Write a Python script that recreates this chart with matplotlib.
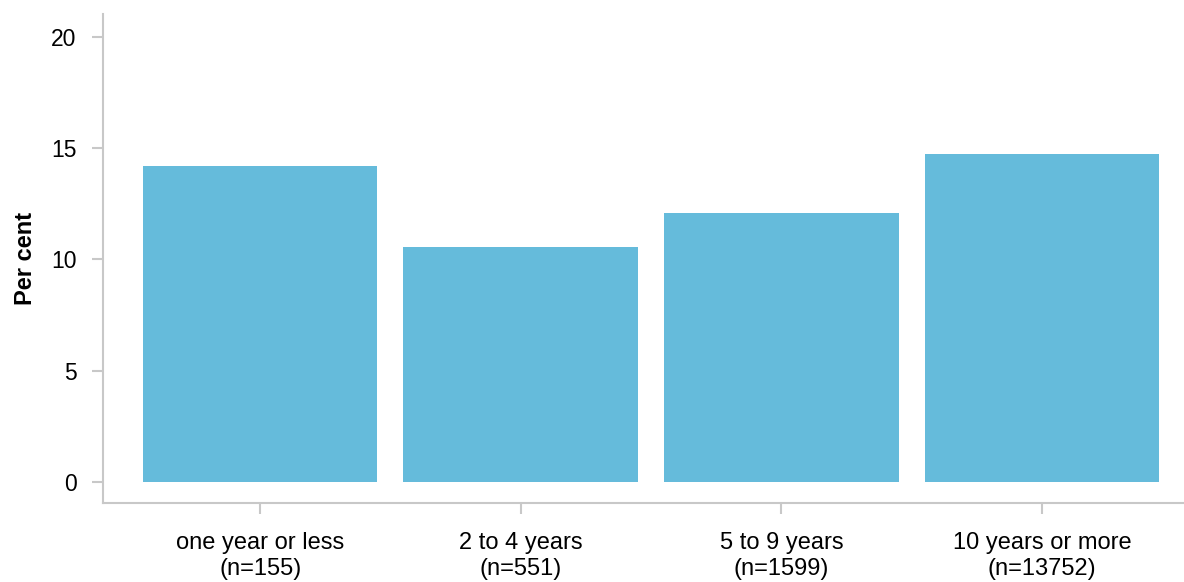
import matplotlib.pyplot as plt
import numpy as np

plt.rcParams['font.family'] = ['Liberation Sans', 'DejaVu Sans']

# data
categories = ['one year or less\n(n=155)', '2 to 4 years\n(n=551)',
              '5 to 9 years\n(n=1599)', '10 years or more\n(n=13752)']
values = [14.2, 10.55, 12.1, 14.75]
yticks = [0, 5, 10, 15, 20]

fig = plt.figure(figsize=(11.84, 5.82), dpi=100)
ax = fig.add_axes([0.087, 0.1357, 0.913, 0.8403])

x = np.arange(len(categories))
ax.bar(x, values, width=0.9, color='#65bbdb')

ax.set_xlim(-0.603, 3.545)
ax.set_ylim(-0.944, 21.03)
ax.set_yticks(yticks)
ax.set_xticks(x)
ax.set_xticklabels(categories, fontsize=17, linespacing=1.25)
ax.tick_params(axis='y', labelsize=16.5, length=8, width=1.5, color='#c8c8c8', pad=11)
ax.tick_params(axis='x', length=8, width=1.5, color='#c8c8c8', pad=13)

for s in ['top', 'right']:
    ax.spines[s].set_visible(False)
for s in ['left', 'bottom']:
    ax.spines[s].set_color('#c8c8c8')
    ax.spines[s].set_linewidth(1.5)

ax.set_ylabel('Per cent', fontsize=17, fontweight='bold', labelpad=10)

fig.savefig('out.png', dpi=100)
